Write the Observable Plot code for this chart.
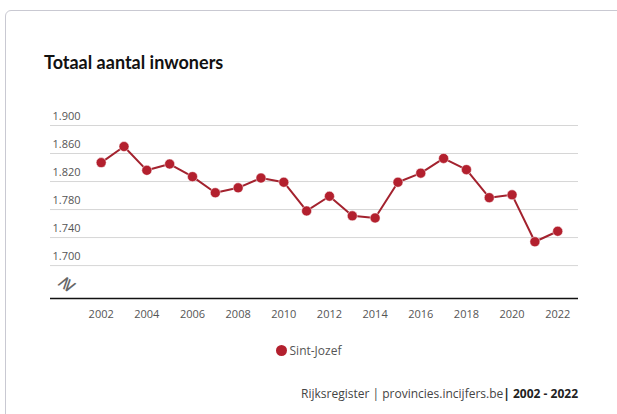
<!DOCTYPE html>
<html><head><meta charset="utf-8">
<script src="https://cdn.jsdelivr.net/npm/d3@7"></script>
<script src="https://cdn.jsdelivr.net/npm/@observablehq/plot@0.6"></script>
<style>
body{margin:0;background:#fff;font-family:Lato,"Open Sans",sans-serif;}
#card{position:absolute;left:5px;top:10px;width:640px;height:420px;border:1px solid #c9c9d2;border-radius:6px;box-sizing:border-box;}
#title{position:absolute;left:44px;top:51px;font:bold 18px Lato,"Open Sans",sans-serif;color:#111;}
#chart{position:absolute;left:0;top:100px;}
#legend{position:absolute;left:0;width:617px;top:342px;text-align:center;font:12px "Open Sans",sans-serif;color:#555;}
#legend .dot{display:inline-block;width:11px;height:11px;border-radius:50%;background:#b3202e;vertical-align:-1px;margin-right:3px;}
#caption{position:absolute;right:39px;top:385px;font:12px "Open Sans",sans-serif;color:#444;}
</style></head>
<body>
<div id="card"></div>
<div id="title">Totaal aantal inwoners</div>
<div id="chart"></div>
<div id="legend"><span class="dot"></span>Sint-Jozef</div>
<div id="caption">Rijksregister | provincies.incijfers.be<b style="color:#222">| 2002 - 2022</b></div>
<script>
const years = [2002,2003,2004,2005,2006,2007,2008,2009,2010,2011,2012,2013,2014,2015,2016,2017,2018,2019,2020,2021,2022];
const inwoners = [1847,1870,1836,1845,1827,1804,1811,1825,1819,1778,1799,1771,1768,1819,1832,1853,1837,1797,1801,1734,1749];
const yTicks = [1700,1740,1780,1820,1860,1900];
const xTicks = [2002,2004,2006,2008,2010,2012,2014,2016,2018,2020,2022];
const serie = "Sint-Jozef";

const data = years.map((y,i)=>({year:y, value:inwoners[i]}));
const nl = d3.formatLocale({decimal:",", thousands:".", grouping:[3], currency:["€",""]});
const fmt = nl.format(",");
const red = "#b3202e";

const chart = Plot.plot({
  width: 617,
  height: 228,
  marginTop: 25,
  marginBottom: 30,
  marginLeft: 50,
  marginRight: 39,
  x: {domain:[1999.78, 2022.91], label: null},
  y: {domain:[1653, 1900], label: null, axis: null},
  style: {fontFamily: "'Open Sans', sans-serif"},
  marks: [
    Plot.ruleY(yTicks, {stroke:"#d6d6d6", strokeWidth:1}),
    Plot.text(yTicks, {y: d=>d, frameAnchor:"left", text: d=>fmt(d), textAnchor:"start", dx:2, dy:-9, fill:"#555", fontSize:11}),
    Plot.ruleY([1653], {stroke:"#111", strokeWidth:1.5}),
    Plot.axisX({ticks: xTicks, tickSize:0, tickPadding:12, fontSize:11, color:"#555", label:null, tickFormat: d=>String(d)}),
    Plot.text(["≷"], {frameAnchor:"bottom-left", dx:16, dy:-5, fontSize:19, fill:"#666", rotate:-55}),
    Plot.line(data, {x:"year", y:"value", stroke:"#a3222e", strokeWidth:2}),
    Plot.dot(data, {x:"year", y:"value", r:5, fill:red, stroke:"#fff", strokeWidth:0.5})
  ]
});
document.getElementById("chart").appendChild(chart);
</script>
</body></html>
